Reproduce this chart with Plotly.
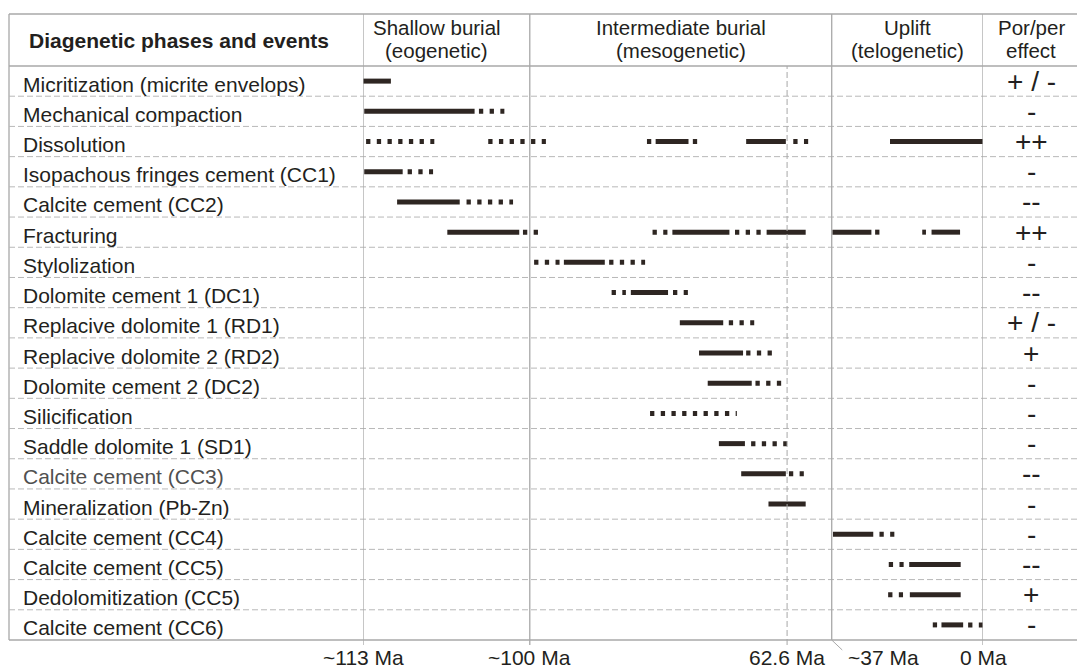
import plotly.graph_objects as go

W, H = 1077, 668

# ---------------- data ----------------
phases = [
    "Micritization (micrite envelops)",
    "Mechanical compaction",
    "Dissolution",
    "Isopachous fringes cement (CC1)",
    "Calcite cement (CC2)",
    "Fracturing",
    "Stylolization",
    "Dolomite cement 1 (DC1)",
    "Replacive dolomite 1 (RD1)",
    "Replacive dolomite 2 (RD2)",
    "Dolomite cement 2 (DC2)",
    "Silicification",
    "Saddle dolomite 1 (SD1)",
    "Calcite cement (CC3)",
    "Mineralization (Pb-Zn)",
    "Calcite cement (CC4)",
    "Calcite cement (CC5)",
    "Dedolomitization (CC5)",
    "Calcite cement (CC6)",
]

effects = ["+ / -", "-", "++", "-", "--", "++", "-", "--",
           "+ / -", "+", "-", "-", "-", "--", "-", "-", "--", "+", "-"]

# Relative position along the (non-linear) time axis: 0 = ~113 Ma ... 100 = 0 Ma
# main (certain) phases -> solid bars
main_periods = [
    [(0.0, 4.5)],
    [(0.2, 18.0)],
    [(47.2, 52.5), (61.8, 68.2), (85.0, 100.0)],
    [(0.2, 6.4)],
    [(5.5, 15.6)],
    [(13.6, 25.2), (49.9, 59.1), (65.1, 71.4), (75.7, 82.0), (91.7, 96.3)],
    [(32.4, 39.0)],
    [(43.2, 49.2)],
    [(51.1, 58.1)],
    [(54.2, 61.3)],
    [(55.6, 62.7)],
    [],
    [(57.4, 61.6)],
    [(61.0, 68.2)],
    [(65.4, 71.4)],
    [(75.8, 82.3)],
    [(88.1, 96.4)],
    [(88.2, 96.4)],
    [(93.3, 96.8)],
]

# minor (possible) phases -> dotted bars
minor_periods = [
    [],
    [(18.7, 22.8)],
    [(0.5, 11.5), (20.2, 29.5), (45.8, 46.5), (53.2, 53.9), (69.4, 71.8)],
    [(7.2, 11.3)],
    [(16.7, 24.2)],
    [(25.8, 28.3), (46.7, 49.1), (60.0, 64.2), (82.6, 83.3), (90.2, 90.8)],
    [(27.6, 31.7), (39.7, 45.5)],
    [(40.1, 42.4), (50.0, 52.4)],
    [(59.0, 63.1)],
    [(61.8, 66.0)],
    [(63.3, 67.5)],
    [(46.3, 60.3)],
    [(62.6, 68.4)],
    [(68.7, 71.1)],
    [],
    [(83.3, 85.7)],
    [(84.8, 87.2)],
    [(84.7, 87.1)],
    [(91.9, 92.6), (97.6, 100.0)],
]

stage_titles = ["Shallow burial", "Intermediate burial", "Uplift"]
stage_subtitles = ["(eogenetic)", "(mesogenetic)", "(telogenetic)"]
stage_centers = [11.9, 51.3, 87.8]
stage_bounds = [0.0, 26.9, 75.6, 100.0]

tick_positions = [0.0, 26.9, 68.4, 75.6, 100.0]
tick_labels = ["~113 Ma", "~100 Ma", "62.6 Ma", "~37 Ma", "0 Ma"]
tick_label_positions = [0.0, 26.9, 68.4, 83.9, 100.0]

# ---------------- styling ----------------
FONT = "Liberation Sans, Arial, Helvetica, sans-serif"
TXT = "#231f20"
BAR = "#2e2622"
GRID = "#a8a8a8"
GRID_DASH = "#b8b8b8"

X_LEFT, X_RIGHT = 363, 983   # pixel span of timeline
Y_TOP, Y_HEAD, Y_BOT = 14, 66, 640


def py(p):
    return 1 - p / H


def px(p):
    return p / W


fig = go.Figure()


def seg_xy(periods):
    xs, ys = [], []
    for i, segs in enumerate(periods):
        for a, b in segs:
            xs += [a, b, None]
            ys += [i, i, None]
    return xs, ys


xs, ys = seg_xy(main_periods)
fig.add_trace(go.Scatter(x=xs, y=ys, mode="lines", connectgaps=False,
                         line=dict(color=BAR, width=5), hoverinfo="skip"))
xs, ys = seg_xy(minor_periods)
fig.add_trace(go.Scatter(x=xs, y=ys, mode="lines", connectgaps=False,
                         line=dict(color=BAR, width=5, dash="4.3px,6.4px"),
                         hoverinfo="skip"))

shapes = []
# outer frame lines
shapes.append(dict(type="line", xref="paper", yref="paper", x0=px(9), x1=1,
                   y0=py(Y_TOP), y1=py(Y_TOP), line=dict(color=GRID, width=1.3)))
shapes.append(dict(type="line", xref="paper", yref="paper", x0=px(9), x1=px(9),
                   y0=py(Y_TOP), y1=py(Y_BOT), line=dict(color=GRID, width=1.3)))
shapes.append(dict(type="line", xref="paper", yref="paper", x0=px(9), x1=1,
                   y0=py(Y_HEAD), y1=py(Y_HEAD), line=dict(color=GRID, width=1.3)))
shapes.append(dict(type="line", xref="paper", yref="paper", x0=px(9), x1=1,
                   y0=py(Y_BOT), y1=py(Y_BOT), line=dict(color=GRID, width=1.3)))
# row separators
for i in range(len(phases) - 1):
    shapes.append(dict(type="line", xref="paper", yref="y", x0=px(9), x1=1,
                       y0=i + 0.5, y1=i + 0.5,
                       line=dict(color=GRID_DASH, width=1, dash="6px,3px")))
# stage boundaries
for b in stage_bounds:
    bottom = py(Y_BOT) if b == 75.6 else py(645)
    shapes.append(dict(type="line", xref="x", yref="paper", x0=b, x1=b,
                       y0=bottom, y1=py(Y_TOP), line=dict(color=GRID, width=1.3)))
# 62.6 Ma dashed boundary
shapes.append(dict(type="line", xref="x", yref="paper", x0=68.4, x1=68.4,
                   y0=py(645), y1=py(Y_HEAD),
                   line=dict(color=GRID, width=1, dash="6px,3px")))
# small slanted tick for ~37 Ma
shapes.append(dict(type="line", xref="x", yref="paper", x0=75.6, x1=77.3,
                   y0=py(Y_BOT), y1=py(650), line=dict(color=GRID, width=1)))

annotations = []
annotations.append(dict(text="<b>Diagenetic phases and events</b>", xref="paper", yref="paper",
                        x=px(27), y=py(40), xanchor="left", yanchor="middle",
                        showarrow=False, font=dict(size=21, color=TXT, family=FONT)))
for t, s, c in zip(stage_titles, stage_subtitles, stage_centers):
    annotations.append(dict(text=t, xref="x", yref="paper", x=c, y=py(27.5),
                            xanchor="center", yanchor="middle", showarrow=False,
                            font=dict(size=20.5, color=TXT, family=FONT)))
    annotations.append(dict(text=s, xref="x", yref="paper", x=c, y=py(50.5),
                            xanchor="center", yanchor="middle", showarrow=False,
                            font=dict(size=20.5, color=TXT, family=FONT)))
annotations.append(dict(text="Por/per", xref="paper", yref="paper", x=px(1031), y=py(27.5),
                        xanchor="center", yanchor="middle", showarrow=False,
                        font=dict(size=20.5, color=TXT, family=FONT)))
annotations.append(dict(text="effect", xref="paper", yref="paper", x=px(1031), y=py(50.5),
                        xanchor="center", yanchor="middle", showarrow=False,
                        font=dict(size=20.5, color=TXT, family=FONT)))

for i, (name, eff) in enumerate(zip(phases, effects)):
    col = "#505050" if name.endswith("(CC3)") else TXT
    annotations.append(dict(text=name, xref="paper", yref="y", x=px(20.5), y=i + 0.1,
                            xanchor="left", yanchor="middle", showarrow=False,
                            font=dict(size=21, color=col, family=FONT)))
    annotations.append(dict(text=eff, xref="paper", yref="y", x=px(1031), y=i,
                            xanchor="center", yanchor="middle", showarrow=False,
                            font=dict(size=28, color=TXT, family=FONT)))

for pos, lab in zip(tick_label_positions, tick_labels):
    annotations.append(dict(text=lab, xref="x", yref="paper", x=pos, y=py(657),
                            xanchor="center", yanchor="middle", showarrow=False,
                            font=dict(size=21, color=TXT, family=FONT)))

fig.update_layout(
    width=W, height=H,
    margin=dict(l=0, r=0, t=0, b=0),
    paper_bgcolor="white", plot_bgcolor="white",
    showlegend=False,
    xaxis=dict(domain=[px(X_LEFT), px(X_RIGHT)], range=[0, 100], visible=False,
               showgrid=False, zeroline=False, fixedrange=True),
    yaxis=dict(domain=[py(Y_BOT), py(Y_HEAD)], range=[len(phases) - 0.5, -0.5],
               visible=False, showgrid=False, zeroline=False, fixedrange=True),
    shapes=shapes,
    annotations=annotations,
)

fig.write_html("out.html")
